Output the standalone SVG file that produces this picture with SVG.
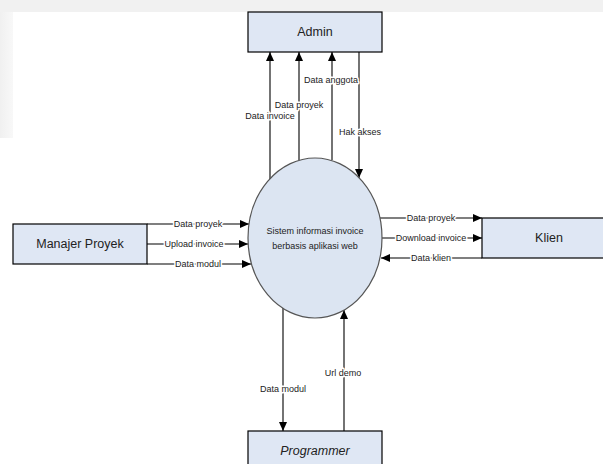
<svg xmlns="http://www.w3.org/2000/svg" width="603" height="464" viewBox="0 0 603 464">
<style>
.box{fill:#dfe7f4;stroke:#000;stroke-width:1.2}
.node-text{font-family:"Liberation Sans",Arial,sans-serif;font-size:12.5px;fill:#222;text-anchor:middle;dominant-baseline:central}
.small-text{font-family:"Liberation Sans",Arial,sans-serif;font-size:9px;fill:#222;text-anchor:middle;dominant-baseline:central}
.flow{stroke:#000;stroke-width:1.1;fill:none;marker-end:url(#arr)}
.lbl{font-family:"Liberation Sans",Arial,sans-serif;font-size:9px;fill:#222;text-anchor:middle;dominant-baseline:central;stroke:#fff;stroke-width:3;paint-order:stroke;stroke-linejoin:round}
</style>
<defs>
<marker id="arr" markerUnits="userSpaceOnUse" markerWidth="10" markerHeight="8" refX="9" refY="4" orient="auto">
<path d="M0,0 L9,4 L0,8 Z" fill="#000"/>
</marker>
<linearGradient id="lg" x1="0" y1="0" x2="1" y2="0">
<stop offset="0" stop-color="#f0f0f0"/>
<stop offset="1" stop-color="#f8f8f8"/>
</linearGradient>
</defs>
<rect x="0" y="0" width="603" height="464" fill="#fff"/>
<rect x="0" y="0" width="603" height="12" fill="#f1f1f1"/>
<rect x="0" y="12" width="13" height="126" fill="url(#lg)"/>

<g id="connectors">
<line class="flow" x1="270" y1="179" x2="270" y2="52"/>
<line class="flow" x1="299" y1="160" x2="299" y2="52"/>
<line class="flow" x1="332" y1="160" x2="332" y2="52"/>
<line class="flow" x1="359" y1="52" x2="359" y2="178"/>
<line class="flow" x1="147" y1="224" x2="249" y2="224"/>
<line class="flow" x1="147" y1="244" x2="248" y2="244"/>
<line class="flow" x1="147" y1="264" x2="251" y2="264"/>
<line class="flow" x1="380" y1="218" x2="482" y2="218"/>
<line class="flow" x1="382" y1="238" x2="482" y2="238"/>
<line class="flow" x1="482" y1="258" x2="381" y2="258"/>
<line class="flow" x1="283" y1="308" x2="283" y2="431"/>
<line class="flow" x1="344" y1="431" x2="344" y2="310"/>
<text class="lbl" x="270" y="116">Data invoice</text>
<text class="lbl" x="299" y="105">Data proyek</text>
<text class="lbl" x="331" y="80">Data anggota</text>
<text class="lbl" x="360" y="132">Hak akses</text>
<text class="lbl" x="198" y="224">Data proyek</text>
<text class="lbl" x="194" y="244">Upload invoice</text>
<text class="lbl" x="198" y="264">Data modul</text>
<text class="lbl" x="431" y="218">Data proyek</text>
<text class="lbl" x="431" y="238">Download invoice</text>
<text class="lbl" x="431" y="258">Data klien</text>
<text class="lbl" x="283" y="389">Data modul</text>
<text class="lbl" x="343" y="373">Url demo</text>
</g>

<g id="admin">
<rect class="box" x="248" y="12" width="134" height="40"/>
<text class="node-text" x="315" y="32">Admin</text>
</g>
<g id="manajer-proyek">
<rect class="box" x="13" y="224" width="134" height="40"/>
<text class="node-text" x="80" y="244">Manajer Proyek</text>
</g>
<g id="klien">
<rect class="box" x="482" y="218" width="134" height="40"/>
<text class="node-text" x="549" y="238">Klien</text>
</g>
<g id="programmer">
<rect class="box" x="248" y="431" width="134" height="40"/>
<text class="node-text" x="315" y="451" font-style="italic">Programmer</text>
</g>
<g id="sistem">
<ellipse cx="315" cy="238" rx="67" ry="80" fill="#dce5f2" stroke="#555" stroke-width="1.2"/>
<text class="small-text" x="315" y="231">Sistem informasi invoice</text>
<text class="small-text" x="315" y="246">berbasis aplikasi web</text>
</g>
</svg>
